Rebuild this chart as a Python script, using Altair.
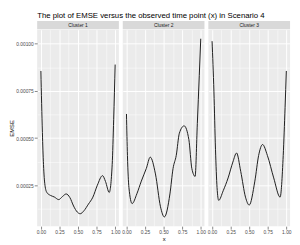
import altair as alt
import pandas as pd

FONT = "Liberation Sans"
TITLE = "The plot of EMSE versus the observed time point (x) in Scenario 4"
clusters = ["Cluster 1", "Cluster 2", "Cluster 3"]

x1 = [0.00, 0.02, 0.035, 0.055, 0.08, 0.13, 0.18, 0.24, 0.29, 0.34, 0.39, 0.44,
      0.49, 0.53, 0.58, 0.64, 0.70, 0.76, 0.83, 0.87, 0.92, 0.96, 0.98, 1.00]
emse1 = [0.000856, 0.00053, 0.00036, 0.00025, 0.000212, 0.000196, 0.000188, 0.000174,
         0.000190, 0.000204, 0.000185, 0.000140, 0.000108, 0.000099, 0.000115, 0.000150,
         0.000187, 0.000250, 0.000301, 0.000270, 0.000212, 0.00036, 0.00060, 0.00089]

x2 = [0.00, 0.013, 0.033, 0.076, 0.14, 0.20, 0.267, 0.32, 0.39, 0.458, 0.51, 0.585,
      0.627, 0.67, 0.712, 0.776, 0.84, 0.88, 0.924, 0.954, 0.98, 1.00]
emse2 = [0.000628, 0.000407, 0.000238, 0.000153, 0.000205, 0.000272, 0.000339, 0.000399,
         0.00031, 0.000136, 0.000082, 0.000204, 0.000339, 0.000408, 0.000526, 0.000565,
         0.000492, 0.000339, 0.000297, 0.000577, 0.000831, 0.001027]

x3 = [0.00, 0.025, 0.046, 0.067, 0.089, 0.15, 0.216, 0.28, 0.33, 0.386, 0.45, 0.50,
      0.576, 0.627, 0.68, 0.745, 0.83, 0.916, 0.958, 0.983, 1.00]
emse3 = [0.001014, 0.000746, 0.000441, 0.000238, 0.00017, 0.000221, 0.000289, 0.000373,
         0.000421, 0.000323, 0.000187, 0.000145, 0.000272, 0.000408, 0.000466, 0.000408,
         0.000289, 0.000187, 0.000408, 0.000663, 0.000856]

x_ticks = [0.0, 0.125, 0.25, 0.375, 0.5, 0.625, 0.75, 0.875, 1.0]
y_ticks = [0.000125, 0.00025, 0.000375, 0.0005, 0.000625, 0.00075, 0.000875, 0.001]
x_domain = [-0.05, 1.05]
y_domain = [0.000033, 0.0010747]

frames = []
for name, xs, ys in zip(clusters, [x1, x2, x3], [emse1, emse2, emse3]):
    frames.append(pd.DataFrame({"cluster": name, "x": xs, "emse": ys}))
df = pd.concat(frames, ignore_index=True)

PANEL_W = 84
PANEL_H = 202
STRIP_H = 8.5

x_minor = "round(datum.value/0.125)%2==1"
y_minor = "round(datum.value/0.000125)%2==1"


def x_axis(show_title):
    return alt.Axis(
        values=x_ticks,
        labelExpr=f"{x_minor} ? '' : format(datum.value, '.2f')",
        grid=True, gridColor="white",
        gridWidth={"condition": {"test": x_minor, "value": 0.5}, "value": 1},
        tickOpacity={"condition": {"test": x_minor, "value": 0}, "value": 1},
        domain=False, tickColor="#333333", tickSize=3, tickWidth=0.6,
        labelColor="#4D4D4D", labelFontSize=5, labelFont=FONT, labelPadding=1,
        labelFlush=False, labelOverlap=False,
        title="x" if show_title else "",
        titleFont=FONT, titleFontSize=6, titleFontWeight="normal", titleColor="black",
        titlePadding=1,
    )


def y_axis(first):
    kw = dict(
        values=y_ticks,
        grid=True, gridColor="white",
        gridWidth={"condition": {"test": y_minor, "value": 0.5}, "value": 1},
        domain=False,
    )
    if first:
        kw.update(
            labelExpr=f"{y_minor} ? '' : format(datum.value, '.5f')",
            tickOpacity={"condition": {"test": y_minor, "value": 0}, "value": 1},
            tickColor="#333333", tickSize=3, tickWidth=0.6,
            labelColor="#4D4D4D", labelFontSize=5, labelFont=FONT, labelPadding=1,
            labelOverlap=False, labelFlush=False,
            title="EMSE", titleFont=FONT, titleFontSize=6, titleFontWeight="normal",
            titleColor="black", titlePadding=1,
        )
    else:
        kw.update(labels=False, ticks=False, title="")
    return alt.Axis(**kw)


strips = []
mains = []
for i, name in enumerate(clusters):
    strip = alt.Chart(pd.DataFrame({"label": [name]})).mark_text(
        font=FONT, fontSize=5, color="#1A1A1A", baseline="middle", align="center"
    ).encode(
        text="label:N",
        x=alt.value(PANEL_W / 2),
        y=alt.value(STRIP_H / 2),
    ).properties(
        width=PANEL_W, height=STRIP_H,
        view=alt.ViewBackground(fill="#D9D9D9", strokeWidth=0),
    )
    main = alt.Chart(df).transform_filter(
        alt.datum.cluster == name
    ).mark_line(color="#1a1a1a", strokeWidth=1, interpolate="monotone").encode(
        x=alt.X("x:Q", scale=alt.Scale(domain=x_domain, nice=False, zero=False), axis=x_axis(i == 1)),
        y=alt.Y("emse:Q", scale=alt.Scale(domain=y_domain, nice=False, zero=False), axis=y_axis(i == 0)),
        order="x:Q",
    ).properties(
        width=PANEL_W, height=PANEL_H,
        view=alt.ViewBackground(fill="#EBEBEB", strokeWidth=0),
    )
    strips.append(strip)
    mains.append(main)

chart = alt.concat(
    *strips, *mains, columns=3, spacing={"row": 0, "column": 4}, bounds="flush"
).properties(
    title=alt.TitleParams(TITLE, anchor="start", frame="group", fontSize=8,
                          font=FONT, fontWeight="normal", color="black", offset=1.5),
    padding=0,
).configure_view(strokeWidth=0)

chart.save("out.html", embed_options={"renderer": "svg", "actions": False})
